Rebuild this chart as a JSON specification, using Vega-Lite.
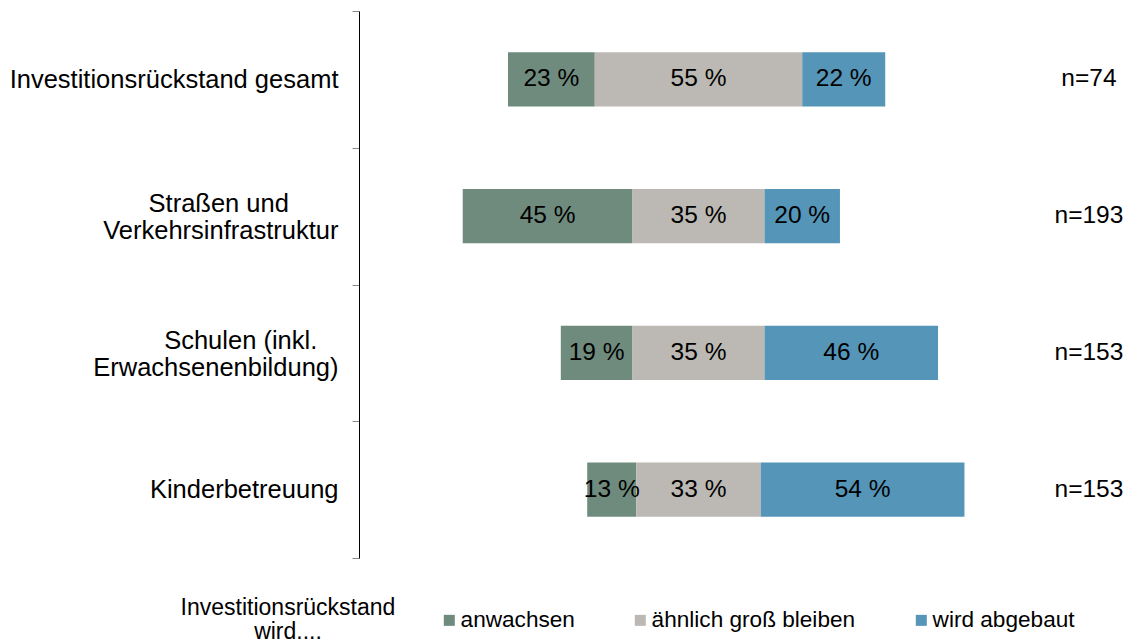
{
  "$schema": "https://vega.github.io/schema/vega-lite/v6.json",
  "width": 679,
  "height": 547,
  "autosize": {"type": "none"},
  "padding": {"left": 359, "top": 11, "right": 99, "bottom": 85},
  "background": "white",
  "config": {"font": "Liberation Sans", "view": {"stroke": null}},
  "resolve": {"axis": {"y": "independent"}},
  "datasets": {
    "bars": [
      {"cat": "Investitionsrückstand gesamt", "type": "anwachsen", "order": 1, "pct": 23},
      {"cat": "Investitionsrückstand gesamt", "type": "ähnlich groß bleiben", "order": 2, "pct": 55},
      {"cat": "Investitionsrückstand gesamt", "type": "wird abgebaut", "order": 3, "pct": 22},
      {"cat": "Straßen und Verkehrsinfrastruktur", "type": "anwachsen", "order": 1, "pct": 45},
      {"cat": "Straßen und Verkehrsinfrastruktur", "type": "ähnlich groß bleiben", "order": 2, "pct": 35},
      {"cat": "Straßen und Verkehrsinfrastruktur", "type": "wird abgebaut", "order": 3, "pct": 20},
      {"cat": "Schulen (inkl. Erwachsenenbildung)", "type": "anwachsen", "order": 1, "pct": 19},
      {"cat": "Schulen (inkl. Erwachsenenbildung)", "type": "ähnlich groß bleiben", "order": 2, "pct": 35},
      {"cat": "Schulen (inkl. Erwachsenenbildung)", "type": "wird abgebaut", "order": 3, "pct": 46},
      {"cat": "Kinderbetreuung", "type": "anwachsen", "order": 1, "pct": 13},
      {"cat": "Kinderbetreuung", "type": "ähnlich groß bleiben", "order": 2, "pct": 33},
      {"cat": "Kinderbetreuung", "type": "wird abgebaut", "order": 3, "pct": 54}
    ],
    "totals": [
      {"cat": "Investitionsrückstand gesamt", "n": 74},
      {"cat": "Straßen und Verkehrsinfrastruktur", "n": 193},
      {"cat": "Schulen (inkl. Erwachsenenbildung)", "n": 153},
      {"cat": "Kinderbetreuung", "n": 153}
    ]
  },
  "layer": [
    {
      "data": {"name": "bars"},
      "transform": [
        {"stack": "pct", "groupby": ["cat"], "sort": [{"field": "order"}], "as": ["s0", "s1"]},
        {"calculate": "datum.type == 'anwachsen' ? datum.pct : (datum.type == 'ähnlich groß bleiben' ? datum.pct / 2 : 0)", "as": "off"},
        {"joinaggregate": [{"op": "sum", "field": "off", "as": "shift"}], "groupby": ["cat"]},
        {"calculate": "datum.s0 - datum.shift", "as": "x0"},
        {"calculate": "datum.s1 - datum.shift", "as": "x1"},
        {"calculate": "(datum.x0 + datum.x1) / 2", "as": "mid"},
        {"calculate": "datum.pct + ' %'", "as": "label"}
      ],
      "layer": [
        {
          "mark": {"type": "bar", "height": {"band": 0.395}},
          "encoding": {
            "y": {
              "field": "cat", "type": "nominal", "title": null,
              "sort": ["Investitionsrückstand gesamt", "Straßen und Verkehrsinfrastruktur", "Schulen (inkl. Erwachsenenbildung)", "Kinderbetreuung"],
              "scale": {"paddingInner": 0, "paddingOuter": 0},
              "axis": {
                "orient": "left",
                "domainColor": "black", "domainWidth": 1,
                "tickColor": "#888888", "tickSize": 7, "tickBand": "extent",
                "labelFontSize": 25.5, "labelColor": "black", "labelPadding": 14, "labelLimit": 0,
                "labelAlign": "right", "labelBaseline": "middle",
                "labelExpr": "(datum.label == 'Straßen und Verkehrsinfrastruktur' || datum.label == 'Schulen (inkl. Erwachsenenbildung)') ? '' : datum.label"
              }
            },
            "x": {"field": "x0", "type": "quantitative", "scale": {"domain": [-90, 90], "nice": false, "zero": false}, "axis": null},
            "x2": {"field": "x1"},
            "color": {
              "field": "type", "type": "nominal",
              "scale": {"domain": ["anwachsen", "ähnlich groß bleiben", "wird abgebaut"], "range": ["#6F8B7E", "#BCB9B4", "#5595B8"]},
              "legend": {
                "orient": "none", "legendX": -178, "legendY": 598,
                "direction": "horizontal",
                "title": ["Investitionsrückstand", "wird...."],
                "titleOrient": "left", "titleAlign": "center",
                "titleFontSize": 23, "titleFontWeight": "normal", "titleColor": "black", "titleLineHeight": 24,
                "titlePadding": -65, "titleLimit": 0,
                "labelFontSize": 22.6, "labelColor": "black", "labelLimit": 0, "labelOffset": 0,
                "symbolType": "square", "symbolSize": 121, "symbolStrokeWidth": 0,
                "columnPadding": 54
              }
            }
          }
        },
        {
          "mark": {"type": "text", "fontSize": 24.5, "color": "black", "baseline": "middle", "align": "center"},
          "encoding": {
            "y": {"field": "cat", "type": "nominal", "title": null, "sort": ["Investitionsrückstand gesamt", "Straßen und Verkehrsinfrastruktur", "Schulen (inkl. Erwachsenenbildung)", "Kinderbetreuung"]},
            "x": {"field": "mid", "type": "quantitative", "scale": {"domain": [-90, 90], "nice": false, "zero": false}},
            "text": {"field": "label"}
          }
        }
      ]
    },
    {
      "mark": {"type": "rule", "color": "#E4E2DF", "strokeWidth": 1},
      "encoding": {"x": {"datum": 0, "type": "quantitative", "scale": {"domain": [-90, 90], "nice": false, "zero": false}}}
    },
    {
      "data": {"name": "totals"},
      "transform": [{"calculate": "'n=' + datum.n", "as": "nlabel"}],
      "mark": {"type": "text", "fontSize": 24.5, "color": "black", "baseline": "middle", "align": "center"},
      "encoding": {
        "y": {
          "field": "cat", "type": "nominal", "title": null,
          "sort": ["Investitionsrückstand gesamt", "Straßen und Verkehrsinfrastruktur", "Schulen (inkl. Erwachsenenbildung)", "Kinderbetreuung"],
          "axis": {
            "orient": "left", "domain": false,
            "ticks": true, "tickOpacity": 0, "tickSize": 7, "tickBand": "extent",
            "labelFontSize": 25.5, "labelColor": "black", "labelPadding": 14, "labelLimit": 0, "labelLineHeight": 27,
            "labelAlign": "right", "labelBaseline": "middle", "labelOffset": -12.5,
            "labelExpr": "datum.label == 'Straßen und Verkehrsinfrastruktur' ? ['Straßen und\u00a0\u00a0\u00a0\u00a0\u00a0\u00a0\u00a0\u200b', 'Verkehrsinfrastruktur'] : (datum.label == 'Schulen (inkl. Erwachsenenbildung)' ? ['Schulen (inkl.\u00a0\u00a0\u00a0\u200b', 'Erwachsenenbildung)'] : '')"
          }
        },
        "x": {"datum": 103.5, "type": "quantitative", "scale": {"domain": [-90, 90], "nice": false, "zero": false}},
        "text": {"field": "nlabel"}
      }
    }
  ]
}
